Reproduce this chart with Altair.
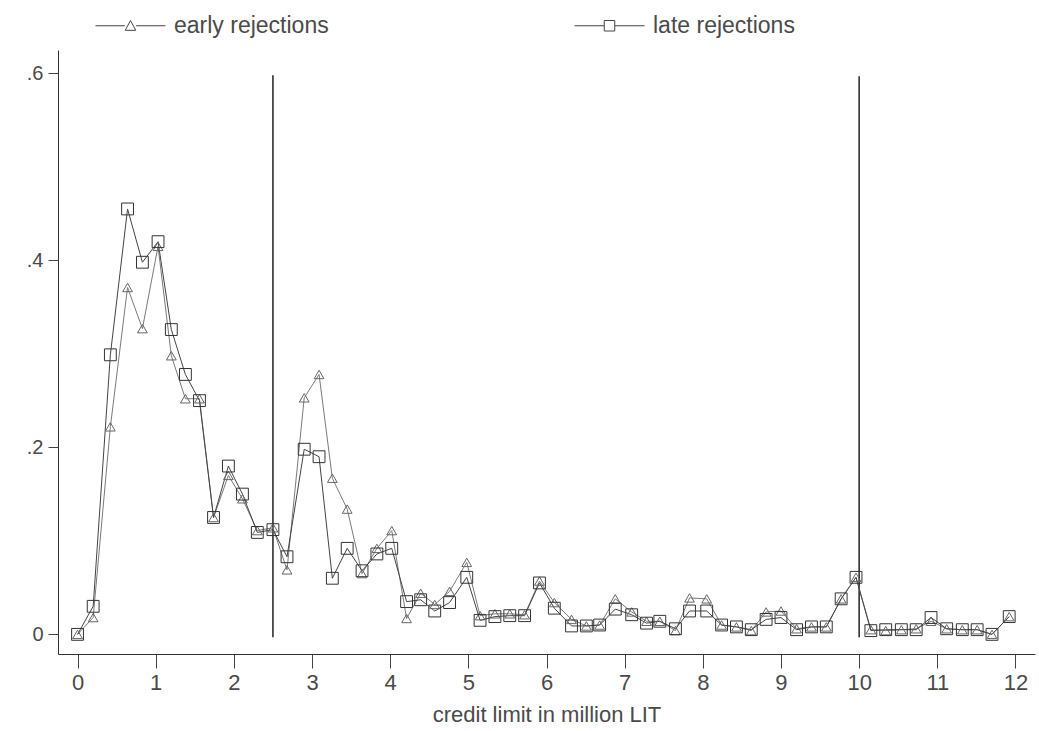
import altair as alt
import pandas as pd

# credit limit (million LIT) of each plotted point
credit_limit = [0.00, 0.20, 0.42, 0.64, 0.83, 1.03, 1.20, 1.38, 1.56, 1.74,
                1.93, 2.11, 2.30, 2.50, 2.68, 2.90, 3.09, 3.26, 3.45, 3.64,
                3.83, 4.02, 4.21, 4.39, 4.57, 4.76, 4.98, 5.15, 5.34, 5.53,
                5.72, 5.91, 6.10, 6.32, 6.51, 6.68, 6.88, 7.09, 7.28, 7.45,
                7.65, 7.83, 8.05, 8.24, 8.43, 8.62, 8.81, 9.00, 9.20, 9.39,
                9.58, 9.77, 9.96, 10.15, 10.34, 10.54, 10.73, 10.92, 11.12, 11.32,
                11.51, 11.70, 11.92]

early_rejections = [0.000, 0.018, 0.222, 0.371, 0.327, 0.415, 0.298, 0.252, 0.252, 0.125,
                    0.170, 0.145, 0.111, 0.114, 0.069, 0.253, 0.278, 0.167, 0.134, 0.065,
                    0.092, 0.111, 0.017, 0.044, 0.032, 0.046, 0.077, 0.020, 0.022, 0.022,
                    0.021, 0.057, 0.034, 0.016, 0.009, 0.010, 0.038, 0.024, 0.014, 0.014,
                    0.004, 0.039, 0.038, 0.010, 0.008, 0.004, 0.024, 0.025, 0.006, 0.008,
                    0.008, 0.038, 0.061, 0.005, 0.004, 0.005, 0.006, 0.014, 0.006, 0.005,
                    0.005, 0.000, 0.019]

late_rejections = [0.000, 0.030, 0.299, 0.455, 0.398, 0.420, 0.326, 0.278, 0.250, 0.125,
                   0.180, 0.150, 0.109, 0.112, 0.083, 0.198, 0.190, 0.060, 0.092, 0.068,
                   0.086, 0.092, 0.035, 0.037, 0.025, 0.034, 0.061, 0.015, 0.019, 0.020,
                   0.020, 0.055, 0.028, 0.009, 0.009, 0.010, 0.027, 0.021, 0.012, 0.014,
                   0.006, 0.025, 0.025, 0.010, 0.008, 0.005, 0.016, 0.018, 0.005, 0.008,
                   0.008, 0.038, 0.061, 0.004, 0.005, 0.005, 0.005, 0.018, 0.006, 0.005,
                   0.005, 0.000, 0.019]

series_names = ["early rejections", "late rejections"]
x_ticks = [0, 1, 2, 3, 4, 5, 6, 7, 8, 9, 10, 11, 12]
y_ticks = [0, 0.2, 0.4, 0.6]
cutoffs = [2.5, 10]
cutoff_low = [-0.003, -0.003]
cutoff_high = [0.598, 0.597]

rows = []
for x, e, l in zip(credit_limit, early_rejections, late_rejections):
    rows.append({"x": x, "value": e, "series": series_names[0]})
    rows.append({"x": x, "value": l, "series": series_names[1]})
df = pd.DataFrame(rows)
cut_df = pd.DataFrame({"x": cutoffs, "y": cutoff_low, "y2": cutoff_high})

FONT = "Liberation Sans"
TXT = "#4a4a4a"

x_scale = alt.Scale(domain=[-0.25, 12.25], nice=False, zero=False)
y_scale = alt.Scale(domain=[-0.021, 0.625], nice=False, zero=False)

x_axis = alt.Axis(values=x_ticks, format="d", title="credit limit in million LIT", grid=False,
                  tickSize=14, labelPadding=4, labelFontSize=22, titleFontSize=22,
                  titlePadding=11, labelColor=TXT, titleColor=TXT, labelFont=FONT,
                  titleFont=FONT, titleFontWeight="normal", domainColor="#333",
                  tickColor="#444", labelFlush=False)
y_axis = alt.Axis(values=y_ticks, title=None, grid=False, tickSize=10, labelPadding=5,
                  labelFontSize=20, labelColor=TXT, labelFont=FONT, domainColor="#333",
                  tickColor="#444",
                  labelExpr="datum.value == 0 ? '0' : '.' + round(datum.value * 10)")

lines = alt.Chart(df).mark_line(strokeWidth=1).encode(
    x=alt.X("x:Q", scale=x_scale, axis=x_axis),
    y=alt.Y("value:Q", scale=y_scale, axis=y_axis),
    color=alt.Color("series:N", scale=alt.Scale(domain=series_names, range=["#7a7a7a", "#444444"]),
                    legend=None),
    detail="series:N",
)

points = alt.Chart(df).mark_point(filled=False, strokeWidth=1, opacity=1).encode(
    x=alt.X("x:Q", scale=x_scale),
    y=alt.Y("value:Q", scale=y_scale),
    shape=alt.Shape("series:N", scale=alt.Scale(domain=series_names, range=["triangle-up", "square"]),
                    legend=None),
    size=alt.Size("series:N", scale=alt.Scale(domain=series_names, range=[95, 140]), legend=None),
    color=alt.Color("series:N", scale=alt.Scale(domain=series_names, range=["#666666", "#333333"]),
                    legend=None),
)

legend_paths = [
    "M-1,0H-0.16M0.16,0H1M-0.15,0.13L0,-0.15L0.15,0.13Z",
    "M-1,0H-0.15M0.15,0H1M-0.15,-0.15H0.15V0.15H-0.15Z",
]
legend_layer = alt.Chart(df).transform_filter("false").mark_point(
    filled=False, color="#444", opacity=1
).encode(
    x=alt.X("x:Q", scale=x_scale),
    y=alt.Y("value:Q", scale=y_scale),
    shape=alt.Shape("series:N", scale=alt.Scale(domain=series_names, range=legend_paths),
                    legend=alt.Legend(title=None, orient="none", legendX=37, legendY=-60,
                                      direction="horizontal", columns=2, columnPadding=243,
                                      symbolSize=4900, symbolStrokeWidth=1,
                                      symbolStrokeColor="#444", symbolFillColor="transparent",
                                      symbolOpacity=1, labelFontSize=23, labelFont=FONT,
                                      labelColor=TXT, labelOffset=8, labelLimit=400)),
)

rules = alt.Chart(cut_df).mark_rule(color="#222", strokeWidth=1.5).encode(
    x=alt.X("x:Q", scale=x_scale),
    y=alt.Y("y:Q", scale=y_scale),
    y2="y2:Q",
)

chart = alt.layer(rules, lines, points, legend_layer).resolve_scale(
    shape="independent", color="independent", size="independent"
).properties(
    width=977, height=604,
    autosize=alt.AutoSizeParams(type="none"),
    padding={"left": 58, "top": 50, "right": 4, "bottom": 77},
    background="white",
).configure_view(stroke=None)

chart.save("out.html", embed_options={"renderer": "svg", "actions": False})
